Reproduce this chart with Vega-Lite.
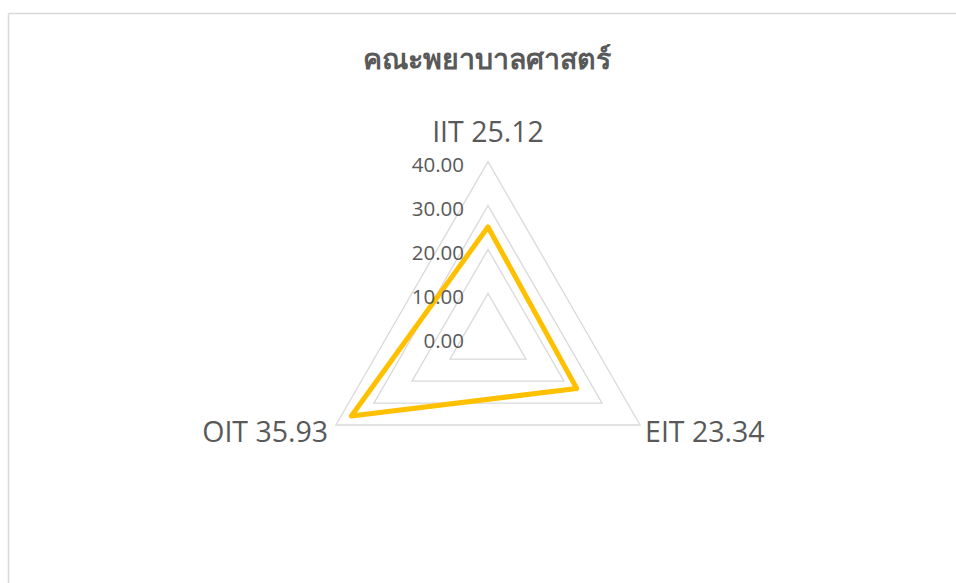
{
  "$schema": "https://vega.github.io/schema/vega-lite/v6.json",
  "width": 948,
  "height": 570,
  "autosize": {"type": "none"},
  "padding": {"left": 8, "top": 13, "right": 0, "bottom": 0},
  "background": "white",
  "config": {
    "view": {"stroke": null},
    "font": "Open Sans",
    "axis": {
      "domain": true,
      "domainColor": "#d9d9d9",
      "domainWidth": 1.5,
      "labels": false,
      "ticks": false,
      "grid": false
    }
  },
  "title": {
    "text": "คณะพยาบาลศาสตร์",
    "font": "Open Sans",
    "fontSize": 28.5,
    "fontWeight": "bold",
    "color": "#595959",
    "anchor": "middle",
    "baseline": "middle",
    "offset": -75,
    "dx": 5
  },
  "datasets": {
    "scores": [
      {"axis": "IIT", "idx": 0, "value": 25.12},
      {"axis": "EIT", "idx": 1, "value": 23.34},
      {"axis": "OIT", "idx": 2, "value": 35.93}
    ],
    "grid": [
      {"level": 10, "idx": 0}, {"level": 10, "idx": 1}, {"level": 10, "idx": 2},
      {"level": 20, "idx": 0}, {"level": 20, "idx": 1}, {"level": 20, "idx": 2},
      {"level": 30, "idx": 0}, {"level": 30, "idx": 1}, {"level": 30, "idx": 2},
      {"level": 40, "idx": 0}, {"level": 40, "idx": 1}, {"level": 40, "idx": 2}
    ],
    "ticks": [
      {"level": 0}, {"level": 10}, {"level": 20}, {"level": 30}, {"level": 40}
    ]
  },
  "encoding": {
    "x": {
      "field": "px", "type": "quantitative",
      "scale": {"domain": [-109.34, 106.61], "nice": false, "zero": false},
      "axis": {"orient": "top", "title": null}
    },
    "y": {
      "field": "py", "type": "quantitative",
      "scale": {"domain": [-55.99, 73.85], "nice": false, "zero": false},
      "axis": {"orient": "left", "title": null}
    }
  },
  "layer": [
    {
      "data": {"name": "grid"},
      "transform": [
        {"calculate": "PI / 2 - datum.idx * 2 * PI / 3", "as": "ang"},
        {"calculate": "datum.level * cos(datum.ang)", "as": "px"},
        {"calculate": "datum.level * sin(datum.ang)", "as": "py"}
      ],
      "mark": {"type": "line", "interpolate": "linear-closed", "color": "#d9d9d9", "strokeWidth": 1.3},
      "encoding": {
        "detail": {"field": "level", "type": "nominal"},
        "order": {"field": "idx", "type": "quantitative"}
      }
    },
    {
      "data": {"name": "scores"},
      "transform": [
        {"calculate": "PI / 2 - datum.idx * 2 * PI / 3", "as": "ang"},
        {"calculate": "datum.value * cos(datum.ang)", "as": "px"},
        {"calculate": "datum.value * sin(datum.ang)", "as": "py"}
      ],
      "mark": {"type": "line", "interpolate": "linear-closed", "color": "#FFC000", "strokeWidth": 5, "strokeJoin": "round", "strokeCap": "round"},
      "encoding": {
        "order": {"field": "idx", "type": "quantitative"}
      }
    },
    {
      "data": {"name": "ticks"},
      "transform": [
        {"calculate": "0", "as": "px"},
        {"calculate": "datum.level", "as": "py"}
      ],
      "mark": {"type": "text", "align": "right", "baseline": "alphabetic", "dx": -24, "dy": 10.5, "fontSize": 20.5, "color": "#595959"},
      "encoding": {
        "text": {"field": "level", "type": "quantitative", "format": ".2f"}
      }
    },
    {
      "data": {"name": "scores"},
      "transform": [
        {"filter": "datum.idx == 0"},
        {"calculate": "PI / 2 - datum.idx * 2 * PI / 3", "as": "ang"},
        {"calculate": "40 * cos(datum.ang)", "as": "px"},
        {"calculate": "40 * sin(datum.ang)", "as": "py"},
        {"calculate": "datum.axis + ' ' + format(datum.value, '.2f')", "as": "label"}
      ],
      "mark": {"type": "text", "align": "center", "baseline": "alphabetic", "dy": -19.4, "fontSize": 28.5, "color": "#595959"},
      "encoding": {"text": {"field": "label", "type": "nominal"}}
    },
    {
      "data": {"name": "scores"},
      "transform": [
        {"filter": "datum.idx == 1"},
        {"calculate": "PI / 2 - datum.idx * 2 * PI / 3", "as": "ang"},
        {"calculate": "40 * cos(datum.ang)", "as": "px"},
        {"calculate": "40 * sin(datum.ang)", "as": "py"},
        {"calculate": "datum.axis + ' ' + format(datum.value, '.2f')", "as": "label"}
      ],
      "mark": {"type": "text", "align": "left", "baseline": "alphabetic", "dx": 5, "dy": 17.4, "fontSize": 28.5, "color": "#595959"},
      "encoding": {"text": {"field": "label", "type": "nominal"}}
    },
    {
      "data": {"name": "scores"},
      "transform": [
        {"filter": "datum.idx == 2"},
        {"calculate": "PI / 2 - datum.idx * 2 * PI / 3", "as": "ang"},
        {"calculate": "40 * cos(datum.ang)", "as": "px"},
        {"calculate": "40 * sin(datum.ang)", "as": "py"},
        {"calculate": "datum.axis + ' ' + format(datum.value, '.2f')", "as": "label"}
      ],
      "mark": {"type": "text", "align": "right", "baseline": "alphabetic", "dx": -7.8, "dy": 17.4, "fontSize": 28.5, "color": "#595959"},
      "encoding": {"text": {"field": "label", "type": "nominal"}}
    }
  ]
}
